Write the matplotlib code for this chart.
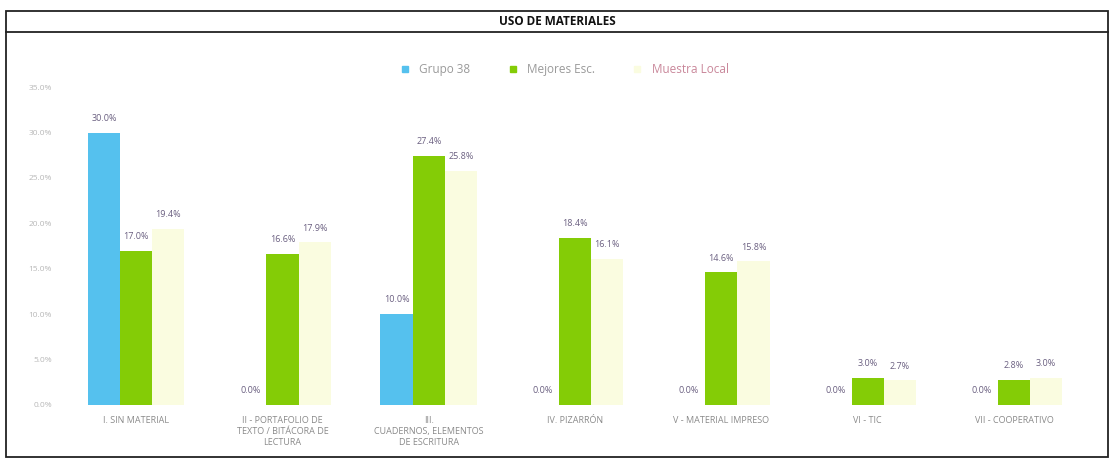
import numpy as np
import matplotlib
matplotlib.use("Agg")
import matplotlib.pyplot as plt
from matplotlib.lines import Line2D
from matplotlib.patches import Rectangle

plt.rcParams['font.family'] = ['Open Sans', 'DejaVu Sans']

# data
categories = [
    "I. SIN MATERIAL",
    "II - PORTAFOLIO DE\nTEXTO / BITÁCORA DE\nLECTURA",
    "III.\nCUADERNOS, ELEMENTOS\nDE ESCRITURA",
    "IV. PIZARRÓN",
    "V - MATERIAL IMPRESO",
    "VI - TIC",
    "VII - COOPERATIVO",
]
series_names = ["Grupo 38", "Mejores Esc.", "Muestra Local"]
grupo38 = [30.0, 0.0, 10.0, 0.0, 0.0, 0.0, 0.0]
mejores = [17.0, 16.6, 27.4, 18.4, 14.6, 3.0, 2.8]
muestra = [19.4, 17.9, 25.8, 16.1, 15.8, 2.7, 3.0]
yticks = [0, 5, 10, 15, 20, 25, 30, 35]

colors = ['#55c1ee', '#84cc06', '#fafce0']
label_color = '#6a5f80'

fig = plt.figure(figsize=(11.15, 4.66), dpi=100)
ax = fig.add_axes([0.0565, 0.131, 0.9185, 0.682])

x = np.arange(len(categories))
w = 0.22
for i, (vals, col) in enumerate(zip([grupo38, mejores, muestra], colors)):
    bars = ax.bar(x + (i - 1) * w, vals, w, color=col, label=series_names[i])
    ax.bar_label(bars, labels=[f"{v:.1f}%" for v in vals], padding=7,
                 fontsize=6.5, color=label_color)

ax.set_xlim(-0.5, len(categories) - 0.5)
ax.set_ylim(0, 35)
ax.set_yticks(yticks)
ax.set_yticklabels([f"{t:.1f}%" for t in yticks], fontsize=6, color='#b8b8b8')
ax.set_xticks(x)
ax.set_xticklabels(categories, fontsize=6.5, color='#8a8a8a', linespacing=1.3)
ax.tick_params(length=0, pad=8)
for s in ax.spines.values():
    s.set_visible(False)

# legend
handles = [Line2D([], [], marker='s', ls='', color=c, markersize=5) for c in colors]
leg = fig.legend(handles, series_names, loc='center', bbox_to_anchor=(0.503, 0.85),
                 ncol=3, frameon=False, fontsize=8.5, handletextpad=0.2,
                 columnspacing=2.6)
for t, c in zip(leg.get_texts(), ['#9a9a9a', '#9a9a9a', '#c9879a']):
    t.set_color(c)

# frame and title strip
fig.patches.append(Rectangle((0.005, 0.02), 0.989, 0.956, transform=fig.transFigure,
                             fill=False, lw=1.3, ec='#222222'))
fig.add_artist(Line2D([0.005, 0.994], [0.931, 0.931], transform=fig.transFigure,
                      color='#222222', lw=1.3))
fig.text(0.5, 0.953, "USO DE MATERIALES", ha='center', va='center',
         fontsize=8.5, fontweight='bold', color='#111111')

fig.savefig("out.png", dpi=100)
